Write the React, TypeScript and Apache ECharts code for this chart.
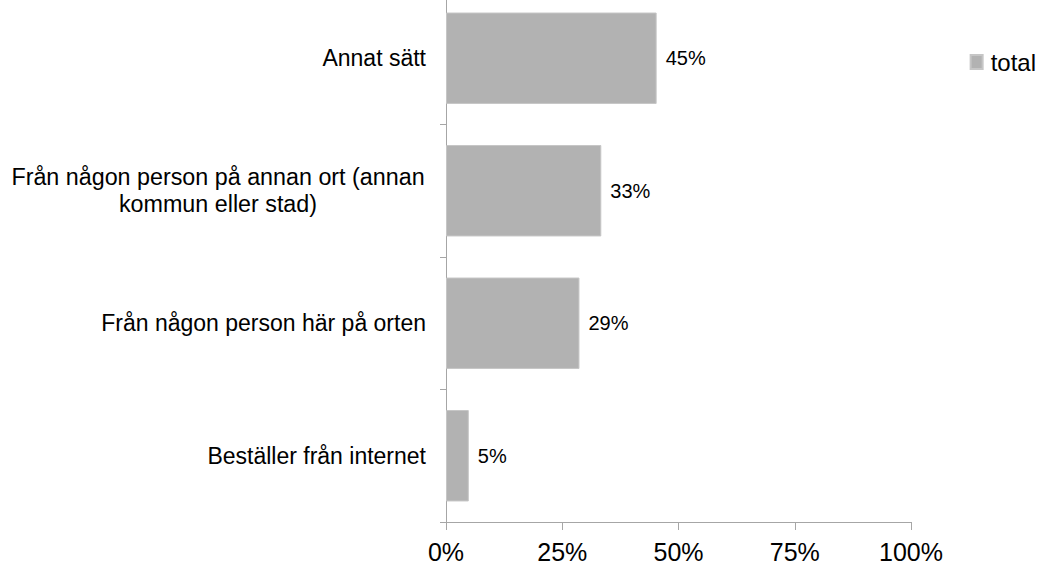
import React, { useEffect, useRef } from "react";
import * as echarts from "echarts";

const categories = [
  "Beställer från internet",
  "Från någon person här på orten",
  "Från någon person på annan ort (annan\nkommun eller stad)",
  "Annat sätt",
];
const totalValues = [4.9, 28.7, 33.4, 45.3];
const xTicks = [0, 25, 50, 75, 100];
const seriesName = "total";

export default function App() {
  const ref = useRef<HTMLDivElement>(null);
  useEffect(() => {
    if (!ref.current) return;
    const chart = echarts.init(ref.current, null, { renderer: "svg" });
    const font = "Liberation Sans, Arial, sans-serif";
    chart.setOption({
      animation: false,
      textStyle: { fontFamily: font },
      legend: {
        data: [{ name: seriesName, icon: "rect" }],
        right: 6,
        top: 58,
        padding: 0,
        itemWidth: 12,
        itemHeight: 14,
        itemGap: 4,
        textStyle: { fontSize: 24, color: "#000", fontFamily: font, padding: [0, 0, 0, 3] },
      },
      grid: { left: 446, right: 131, top: 0, bottom: 43, containLabel: false },
      xAxis: {
        type: "value",
        min: 0,
        max: 100,
        interval: 25,
        axisLine: { show: true, lineStyle: { color: "#a6a6a6", width: 1 } },
        axisTick: { show: true, length: 8, lineStyle: { color: "#a6a6a6" } },
        splitLine: { show: false },
        axisLabel: {
          fontSize: 25,
          color: "#000",
          margin: 17,
          fontFamily: font,
          formatter: (v: number) => (xTicks.includes(v) ? v + "%" : ""),
        },
      },
      yAxis: {
        type: "category",
        data: categories,
        axisLine: { show: true, lineStyle: { color: "#a6a6a6", width: 1 } },
        axisTick: { show: true, length: 6, lineStyle: { color: "#a6a6a6" } },
        axisLabel: {
          fontSize: 23,
          color: "#000",
          margin: 20,
          fontFamily: font,
          lineHeight: 27,
          formatter: (v: string) => {
            if (v.includes("\n")) {
              return v
                .split("\n")
                .map((l) => "{c|" + l + "}")
                .join("\n");
            }
            return v;
          },
          rich: {
            c: { width: 416, align: "center", fontSize: 23.3, color: "#000", fontFamily: font, lineHeight: 27 },
          },
        },
      },
      series: [
        {
          name: seriesName,
          type: "bar",
          data: totalValues,
          barCategoryGap: "31%",
          itemStyle: { color: "#b2b2b2", borderColor: "#c6c6c6", borderWidth: 1 },
          label: {
            show: true,
            position: "right",
            distance: 9,
            fontSize: 20,
            color: "#000",
            fontFamily: font,
            formatter: (p: any) => Math.round(p.value) + "%",
          },
        },
      ],
    });
    return () => chart.dispose();
  }, []);
  return (
    <div
      ref={ref}
      style={{ position: "fixed", left: 0, top: -8, width: 1042, height: 573, background: "#fff" }}
    />
  );
}
